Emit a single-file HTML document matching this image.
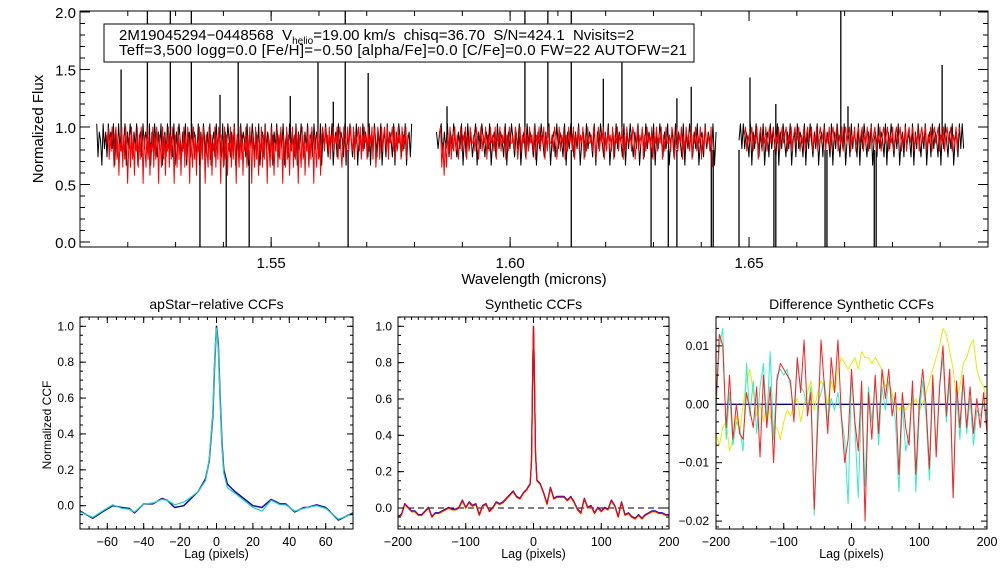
<!DOCTYPE html>
<html><head><meta charset="utf-8"><style>
html,body{margin:0;padding:0;background:#fff}
svg{display:block;font-family:"Liberation Sans",sans-serif}
</style></head><body>
<svg id="c" width="1008" height="576" viewBox="0 0 1008 576" xmlns="http://www.w3.org/2000/svg">
<defs>
<clipPath id="cpTop"><rect x="80" y="11" width="908" height="236"/></clipPath>
<clipPath id="cp1"><rect x="80" y="317" width="273" height="212"/></clipPath>
<clipPath id="cp2"><rect x="398" y="317" width="271" height="212"/></clipPath>
<clipPath id="cp3"><rect x="716" y="317" width="271" height="212"/></clipPath>
</defs>
</svg>
<script>
// ---------- top spectrum data ----------
const segStart = [1.5135, 1.5846, 1.6479];
const segEnd = [1.5794, 1.6431, 1.6949];
const redStart = [1.5155, 1.5852, 1.6490];
const blackCodes = [
"958749685978694859685794869758694785968759486975869478596875948697586947859687594869758694785968759486975869478596875948697586947859687594869758694785968759486975869478596875948697586947859687594869758694785968759486975869478596875948697586947859",
"868958695869758694859685794869758694785968759486975869478596875948697586947859687594869758694785968759486975869478596875948697586947859687594869758694785968759486975869478596875948",
"796968759486975869478596875948697586947859687594869758694785968759486975869478596875948697586947859687594869758694785968759486975869478596875948697586947859696"
].map(s => s.split('').map(Number));
const redCodes = [
"879586974895837694859726849583769485972864958376948597286495837694859728649583769485972864958376948597286495837694859728649583769485972864958376948597286495837694859728649583769485972864958376948597286495837694859728649583798697869587968795896479857968976958789695869785968795894698579689769587896958697859687958",
"894737486958696857968795869778698579687958697869587968795869778698579687958697869587968795869778698579687958697869587968795869778698579687958697869587968795869778698579687958697869587968795869778698579687958697869587968795869778694",
"896878968795896879689789687968978968796897896879689789687968978968796897896879689789687968978968796897896879689789687968978968796897896879689789687968978968796897896879689"
].map(s => s.split('').map(Number));
const spikeWl = [1.5351,1.5406,1.5454,1.5661,1.6128,1.6295,1.6331,1.6349,1.6421,1.6425,1.6479,1.6552,1.6556,1.6659,1.6663,1.6762,1.6766,
 1.5186,1.5241,1.5289,1.5333,1.5393,1.5431,1.5540,1.5598,1.5630,1.5655,1.5703,1.5868,1.6031,1.6079,1.6128,1.6195,1.6234,1.6349,1.6379,1.6502,1.6556,1.6692,1.6707,1.6904];
const spikeLo = [-0.1,-0.1,-0.1,-0.1,-0.1,-0.1,-0.1,-0.1,-0.1,-0.1,-0.1,-0.1,-0.1,-0.1,-0.1,-0.1,-0.1,
 0.9,0.9,0.9,0.9,0.9,0.9,0.9,0.9,0.9,0.9,0.9,0.9,0.9,0.9,0.9,0.9,0.9,0.9,0.9,0.9,0.9,0.9,0.9,0.9];
const spikeHi = [0.8,0.8,0.8,0.8,0.8,0.8,0.8,0.8,0.8,0.8,0.8,0.8,0.8,0.8,0.8,0.8,0.8,
 1.5,2.1,2.1,2.1,1.28,1.56,1.27,1.56,1.22,2.1,1.47,1.18,2.1,2.1,2.1,1.42,1.56,1.25,1.35,1.43,1.2,2.1,1.18,1.54];
const topXTicks = ["1.55","1.60","1.65"];
const topYTicks = ["0.0","0.5","1.0","1.5","2.0"];

// ---------- panel 1 ----------
const p1Lag = [-75,-68,-62,-57,-52,-48,-45,-40,-35,-30,-27,-23,-18,-15,-10,-6,-4,-2,-1,0,1,2,3,4,6,10,15,20,25,30,35,38,43,48,50,55,60,67,75];
const p1Blue = [-0.03,-0.07,-0.03,0.0,-0.01,-0.015,-0.04,0.01,0.01,0.04,0.03,-0.01,0.0,0.03,0.08,0.15,0.25,0.5,0.8,1.0,0.9,0.6,0.35,0.2,0.12,0.08,0.04,0.0,-0.01,0.035,0.01,0.01,-0.035,-0.01,-0.01,0.005,-0.01,-0.08,-0.04];
const p1Cyan = [-0.035,-0.065,-0.025,0.005,-0.015,-0.02,-0.035,0.01,0.015,0.035,0.03,0.005,0.02,0.04,0.08,0.14,0.26,0.52,0.82,0.99,0.88,0.58,0.33,0.18,0.1,0.07,0.03,-0.01,-0.03,0.03,0.005,0.005,-0.03,-0.015,-0.01,0.0,-0.015,-0.075,-0.045];
const p1XTicks = [-60,-40,-20,0,20,40,60];
const ccfYTicks = ["0.0","0.2","0.4","0.6","0.8","1.0"];

// ---------- panel 2 ----------
const p2Lag = [-200,-195,-190,-185,-180,-175,-170,-165,-160,-155,-150,-145,-140,-135,-130,-125,-120,-115,-110,-105,-100,-95,-90,-85,-80,-75,-70,-65,-60,-55,-50,-45,-40,-35,-30,-25,-20,-15,-10,-5,-3,-1,0,1,3,5,10,15,20,25,30,35,40,45,50,55,60,65,70,75,80,85,90,95,100,105,110,115,120,125,130,135,140,145,150,155,160,165,170,175,180,185,190,195,200];
const p2Base = [-0.05,-0.04,0.02,0.0,-0.02,-0.02,-0.04,-0.04,-0.02,0.0,-0.05,-0.03,-0.03,-0.02,-0.01,0.0,-0.01,-0.01,0.0,0.04,0.0,0.03,0.01,0.02,-0.04,0.01,0.02,-0.02,0.0,0.03,0.02,0.03,0.05,0.07,0.09,0.06,0.05,0.08,0.1,0.13,0.25,0.8,1.0,0.8,0.3,0.15,0.13,0.08,0.02,0.11,0.05,0.06,0.06,0.06,0.04,0.06,0.03,-0.01,-0.03,0.05,0.0,0.01,-0.03,0.0,-0.02,0.0,-0.01,0.04,0.01,-0.05,0.03,-0.04,-0.03,-0.05,-0.06,-0.04,-0.06,-0.04,-0.03,-0.02,-0.02,-0.03,-0.03,-0.04,-0.04];
const p2Offsets = [0.003, -0.002, 0.004, 0.0];
const p2Colors = ["#00c000","#ffff00","#0000ff","#ff0000"];
const lagTicks = [-200,-100,0,100,200];

// ---------- panel 3 ----------
const p3Lag = [];
for (let l = -200; l <= 200; l += 5) p3Lag.push(l);
const p3Red = [0,12,10,-4,5,-6,0,-5,-6,2,-1,-4,3,-9,5,-4,3,-10,4,7,6,5,4,-3,8,2,11,-2,2,-18,-4,11,3,-5,8,2,11,-2,-10,-6,6,-3,-8,4,-20,2,-6,5,-5,6,1,6,-2,2,-12,2,-4,-7,4,-12,0,6,0,-11,5,-9,3,10,-2,6,-16,4,-4,5,-4,3,-5,1,-4,2,-5];
const p3Cyan = [-1,10,13,-6,2,-7,-3,-4,-8,7,-2,4,-5,3,7,-3,9,-6,5,6,5,6,3,-1,7,3,2,-1,3,-19,0,2,4,-3,1,-1,2,-2,-6,-17,5,-4,-16,2,-14,3,-3,4,-7,3,-1,4,1,-3,-15,0,-8,-5,2,-15,-2,4,-2,-13,3,-7,3,8,-3,4,-16,2,-6,4,-5,1,-7,-1,-2,0,-2];
const p3Yellow = [-5,-7,-4,-3,-8,-6,-2,-5,0,4,6,2,-2,0,-3,0,-2,-4,-4,-6,-3,-1,-2,0,1,-3,0,2,4,-1,2,4,3,0,4,2,6,8,7,6,7,8,6,9,8,8,7,8,7,6,3,4,2,0,-1,0,-1,0,0,1,-1,0,2,4,6,8,10,13,12,9,6,1,3,7,8,10,11,6,4,3,0];
const p3YTicks = [0.01, 0.0, -0.01, -0.02];
const p3YLabels = ["0.01","0.00","\u22120.01","\u22120.02"];

// ---------- drawing ----------
const svg = document.getElementById('c');
const NS = "http://www.w3.org/2000/svg";
function mk(tag, attrs, parent) {
  const e = document.createElementNS(NS, tag);
  for (const k in attrs) e.setAttribute(k, attrs[k]);
  (parent || svg).appendChild(e);
  return e;
}
function lin(d0, d1, r0, r1) { return v => r0 + (v - d0) / (d1 - d0) * (r1 - r0); }
function txt(x, y, s, size, anchor, name, parent) {
  const t = mk('text', {x: x, y: y, 'font-size': size, 'text-anchor': anchor || 'middle', fill: '#000'}, parent);
  t.textContent = s;
  
  
  return t;
}
function frame(x0, y0, x1, y1, name) {
  const r = mk('rect', {x: x0, y: y0, width: x1 - x0, height: y1 - y0, fill: 'none', stroke: '#000', 'stroke-width': 1});
  
  
}
function ticksX(sx, vals, len, y0, y1, g) {
  for (const v of vals) {
    const x = sx(v);
    mk('line', {x1: x, x2: x, y1: y1, y2: y1 - len, stroke: '#000', 'stroke-width': 1}, g);
    mk('line', {x1: x, x2: x, y1: y0, y2: y0 + len, stroke: '#000', 'stroke-width': 1}, g);
  }
}
function ticksY(sy, vals, len, x0, x1, g) {
  for (const v of vals) {
    const y = sy(v);
    mk('line', {x1: x0, x2: x0 + len, y1: y, y2: y, stroke: '#000', 'stroke-width': 1}, g);
    mk('line', {x1: x1, x2: x1 - len, y1: y, y2: y, stroke: '#000', 'stroke-width': 1}, g);
  }
}
function range(a, b, s) { const r = []; for (let v = a; v <= b + 1e-9; v += s) r.push(+v.toFixed(6)); return r; }
function polyline(xs, ys, sx, sy, color, clip, name, w) {
  const pts = xs.map((x, i) => sx(x).toFixed(2) + ',' + sy(ys[i]).toFixed(2)).join(' ');
  const p = mk('polyline', {points: pts, fill: 'none', stroke: color, 'stroke-width': w || 1, 'clip-path': 'url(#' + clip + ')', 'stroke-linejoin': 'round'});
  
  
  return p;
}

// top panel
const TX0 = 80, TX1 = 988, TY0 = 11, TY1 = 247;
const tsx = lin(1.51, 1.70, TX0, TX1);
const tsy = lin(0, 2.0, 242, 12);
for (let s = 0; s < 3; s++) {
  const b = blackCodes[s];
  const wlB = b.map((_, i) => segStart[s] + (segEnd[s] - segStart[s]) * i / (b.length - 1));
  polyline(wlB, b.map(d => 0.38 + d * 0.072), tsx, tsy, '#000', 'cpTop', 'observed-spectrum-chip-' + (s + 1));
}
for (let i = 0; i < spikeWl.length; i++) {
  const x = tsx(spikeWl[i]);
  const l = mk('line', {x1: x, x2: x, y1: tsy(spikeLo[i]), y2: tsy(spikeHi[i]), stroke: '#000', 'stroke-width': 1.3, 'clip-path': 'url(#cpTop)'});
  
  
}
for (let s = 0; s < 3; s++) {
  const r = redCodes[s];
  const wlR = r.map((_, i) => redStart[s] + (segEnd[s] - 0.0008 - redStart[s]) * i / (r.length - 1));
  polyline(wlR, r.map(d => 0.37 + d * 0.07), tsx, tsy, '#ff0000', 'cpTop', 'model-spectrum-chip-' + (s + 1));
}
frame(TX0, TY0, TX1, TY1, 'spectrum-plot-frame');
ticksX(tsx, range(1.51, 1.70, 0.01), 5, TY0, TY1);
ticksX(tsx, [1.55, 1.60, 1.65], 10, TY0, TY1);
ticksY(tsy, range(0, 2.0, 0.1), 5, TX0, TX1);
ticksY(tsy, range(0, 2.0, 0.5), 10, TX0, TX1);
topXTicks.forEach(t => txt(tsx(+t), 268, t, 15, 'middle', 'x-tick-label'));
topYTicks.forEach(t => txt(76, tsy(+t) + 6, t, 15, 'end', 'y-tick-label'));
txt(534, 284, 'Wavelength (microns)', 15, 'middle', 'x-axis-title');
const yt = txt(0, 0, 'Normalized Flux', 15, 'middle', 'y-axis-title');
yt.setAttribute('transform', 'translate(43,129) rotate(-90)');

// legend
const lg = mk('g', {});


mk('rect', {x: 104, y: 24, width: 590, height: 38, fill: '#fff', stroke: '#000', 'stroke-width': 1}, lg);
const l1 = mk('text', {x: 119, y: 40, 'font-size': 15, fill: '#000'}, lg);


l1.innerHTML = '2M19045294\u22120448568  V<tspan font-size="10" dy="4">helio</tspan><tspan dy="-4">=19.00 km/s  chisq=36.70  S/N=424.1  Nvisits=2</tspan>';
l1.style.whiteSpace = 'pre';
const l2 = txt(119, 55, 'Teff=3,500 logg=0.0 [Fe/H]=\u22120.50 [alpha/Fe]=0.0 [C/Fe]=0.0 FW=22 AUTOFW=21', 15, 'start', 'legend-line-2', lg);
l2.setAttribute('textLength', 568);

function bottomFrame(x0, x1, sx, sy, xMajor, xMinor, yMajor, yMinor, title, name) {
  frame(x0, 317, x1, 529, name + '-frame');
  ticksX(sx, xMinor, 3, 317, 529);
  ticksX(sx, xMajor, 6, 317, 529);
  ticksY(sy, yMinor, 3, x0, x1);
  ticksY(sy, yMajor, 6, x0, x1);
  txt((x0 + x1) / 2, 309, title, 14, 'middle', name + '-title');
  txt((x0 + x1) / 2, 558, 'Lag (pixels)', 12.5, 'middle', name + '-x-axis-title');
}

// panel 1
const s1x = lin(-75, 75, 80, 353), s1y = lin(0, 1.0, 505.7, 326.3);
polyline(p1Lag, p1Blue, s1x, s1y, '#1010a0', 'cp1', 'apstar-ccf-visit-1', 1.5);
polyline(p1Lag, p1Cyan, s1x, s1y, '#20d0c0', 'cp1', 'apstar-ccf-visit-2', 1.2);
bottomFrame(80, 353, s1x, s1y, p1XTicks, range(-75, 75, 5), [0, 0.2, 0.4, 0.6, 0.8, 1.0], range(-0.1, 1.05, 0.05), 'apStar\u2212relative CCFs', 'apstar-ccf-panel');
p1XTicks.forEach(t => txt(s1x(t), 546, String(t).replace('-', '\u2212'), 12.5, 'middle', 'x-tick-label'));
ccfYTicks.forEach(t => txt(74, s1y(+t) + 4, t, 12, 'end', 'y-tick-label'));
const yt1 = txt(0, 0, 'Normalized CCF', 12, 'middle', 'ccf-y-axis-title');
yt1.setAttribute('transform', 'translate(51,425) rotate(-90)');

// panel 2
const s2x = lin(-200, 200, 398, 669), s2y = lin(0, 1.0, 508, 326.3);
const dz = mk('line', {x1: 398, x2: 669, y1: s2y(0), y2: s2y(0), stroke: '#000', 'stroke-dasharray': '6,4', 'stroke-width': 1});


p2Offsets.forEach((o, k) => polyline(p2Lag, p2Base.map(v => v + (v < 0.5 ? o : 0)), s2x, s2y, p2Colors[k], 'cp2', 'synthetic-ccf-' + (k + 1), 1.2));
bottomFrame(398, 669, s2x, s2y, lagTicks, range(-200, 200, 10), [0, 0.2, 0.4, 0.6, 0.8, 1.0], range(-0.1, 1.05, 0.05), 'Synthetic CCFs', 'synthetic-ccf-panel');
lagTicks.forEach(t => txt(s2x(t), 546, String(t).replace('-', '\u2212'), 12.5, 'middle', 'x-tick-label'));
ccfYTicks.forEach(t => txt(392, s2y(+t) + 4, t, 12, 'end', 'y-tick-label'));

// panel 3
const s3x = lin(-200, 200, 716, 987), s3y = lin(0, 0.01, 404.3, 345.9);
const bz = mk('line', {x1: 716, x2: 987, y1: s3y(0), y2: s3y(0), stroke: '#000090', 'stroke-width': 1.3});


polyline(p3Lag, p3Yellow.map(v => v / 1000), s3x, s3y, '#e0f000', 'cp3', 'difference-ccf-yellow', 1);
polyline(p3Lag, p3Cyan.map(v => v / 1000), s3x, s3y, '#30f0c8', 'cp3', 'difference-ccf-cyan', 1);
polyline(p3Lag, p3Red.map(v => v / 1000), s3x, s3y, '#ff2020', 'cp3', 'difference-ccf-red', 1);
bottomFrame(716, 987, s3x, s3y, lagTicks, range(-200, 200, 20), p3YTicks, range(-0.021, 0.015, 0.002), 'Difference Synthetic CCFs', 'difference-ccf-panel');
lagTicks.forEach(t => txt(s3x(t), 546, String(t).replace('-', '\u2212'), 12.5, 'middle', 'x-tick-label'));
p3YTicks.forEach((t, i) => txt(709, s3y(t) + 4, p3YLabels[i], 12, 'end', 'y-tick-label'));
</script>
</body></html>
